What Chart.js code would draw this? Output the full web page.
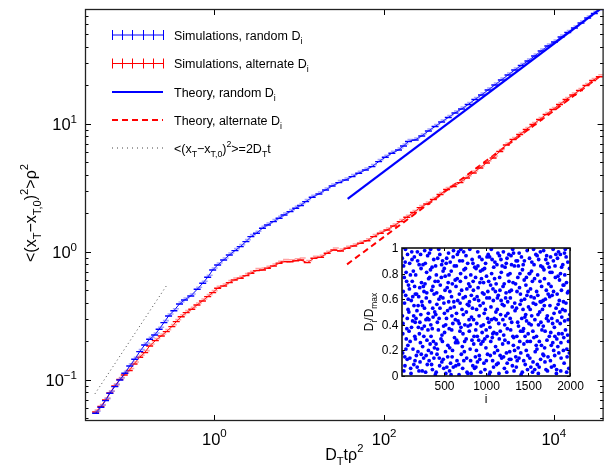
<!DOCTYPE html>
<html>
<head>
<meta charset="utf-8">
<script src="https://cdn.jsdelivr.net/npm/chart.js@4.4.1/dist/chart.umd.min.js"></script>
<style>
  html, body { margin: 0; padding: 0; background: #fff; }
  #wrap { position: relative; width: 609px; height: 468px; }
  #main { position: absolute; left: 0; top: 0; }
  #inset { position: absolute; left: 350px; top: 236px; }
</style>
</head>
<body>
<div id="wrap">
  <canvas id="main" width="609" height="468"></canvas>
  <canvas id="inset" width="240" height="180"></canvas>
</div>
<script>
'use strict';

// ---- data ----
var xRange = [0.0299, 38600];
var yRange = [0.0478, 79.1];
var xTickValues = [1, 100, 10000];
var xTickExps = ['0', '2', '4'];
var yTickValues = [0.1, 1, 10];
var yTickExps = ['\u22121', '0', '1'];

// simulations, random D_i
var blueT = [0.0399, 0.0460, 0.0522, 0.0587, 0.0671, 0.0769, 0.0880, 0.1007, 0.1152, 0.1319,
  0.1510, 0.1728, 0.1978, 0.2234, 0.2543, 0.2887, 0.3332, 0.3885, 0.4447, 0.527,
  0.627, 0.729, 0.834, 0.955, 1.093, 1.286, 1.50, 1.749, 2.018, 2.354,
  2.695, 3.134, 3.687, 4.219, 4.963, 5.787, 6.624, 7.791, 9.087, 10.34,
  11.90, 14.22, 17.05, 20.43, 24.42, 29.26, 35.07, 41.91, 50.22, 60.18,
  71.93, 86.19, 103.3, 123.5, 147.9, 169.3, 193.8, 232.3, 277.6, 332.6,
  398.7, 476.5, 571.0, 684.2, 817.7, 979.9, 1174, 1404, 1682, 2016,
  2409, 2887, 3459, 4134, 4955, 5937, 7097, 8505, 10190, 12180,
  14600, 17490, 20910, 25050, 30020, 35590];
var blueMsd = [0.0549, 0.0612, 0.0689, 0.0787, 0.0887, 0.1000, 0.1128, 0.1286, 0.1451, 0.1664,
  0.1877, 0.208, 0.2247, 0.2489, 0.2803, 0.3162, 0.3478, 0.3924, 0.4217, 0.4532,
  0.511, 0.569, 0.634, 0.723, 0.791, 0.866, 0.947, 1.024, 1.100, 1.204,
  1.317, 1.400, 1.532, 1.625, 1.725, 1.834, 1.946, 2.065, 2.195, 2.308,
  2.472, 2.675, 2.839, 3.051, 3.279, 3.479, 3.652, 3.876, 4.120, 4.371,
  4.639, 5.076, 5.494, 5.902, 6.265, 6.733, 7.299, 7.499, 8.059, 8.818,
  9.561, 10.37, 11.24, 12.19, 13.10, 14.20, 15.54, 16.85, 18.44, 20.17,
  22.07, 24.14, 26.42, 28.64, 31.06, 33.98, 37.18, 40.68, 43.71, 47.82,
  51.86, 56.23, 61.52, 67.33, 72.99, 78.45];

// simulations, alternate D_i
var redT = [0.0399, 0.0460, 0.0522, 0.0587, 0.0671, 0.0769, 0.0868, 0.0993, 0.1131, 0.1319,
  0.1510, 0.1728, 0.2015, 0.2370, 0.2712, 0.3156, 0.3555, 0.4068, 0.4656, 0.5417,
  0.6234, 0.7231, 0.834, 0.955, 1.093, 1.286, 1.50, 1.716, 2.018, 2.354,
  2.695, 3.134, 3.687, 4.219, 4.963, 5.787, 6.624, 7.791, 9.087, 10.40,
  12.43, 14.89, 17.85, 21.33, 25.56, 30.63, 36.61, 43.87, 52.58, 62.84,
  75.31, 90.24, 107.9, 129.3, 154.9, 185.1, 221.8, 265.9, 317.8, 380.8,
  456.3, 545.4, 653.5, 783.1, 935.9, 1122, 1344, 1607, 1925, 2307,
  2757, 3304, 3959, 4732, 5671, 6796, 8122, 9733, 11665, 13944,
  16711, 20027, 23925, 28676, 34364];
var redMsd = [0.0562, 0.0621, 0.0698, 0.0791, 0.0898, 0.1009, 0.1094, 0.1187, 0.1334, 0.1505,
  0.1634, 0.1844, 0.2028, 0.2207, 0.2384, 0.2609, 0.2854, 0.3122, 0.3356, 0.3568,
  0.3854, 0.4142, 0.4475, 0.4809, 0.5205, 0.5425, 0.5756, 0.6043, 0.6231, 0.6529,
  0.6817, 0.7144, 0.7233, 0.7459, 0.7773, 0.8161, 0.8399, 0.838, 0.8550, 0.866,
  0.825, 0.893, 0.909, 0.977, 1.037, 1.018, 1.069, 1.114, 1.170, 1.225,
  1.317, 1.400, 1.485, 1.596, 1.725, 1.867, 2.035, 2.219, 2.371, 2.571,
  2.813, 3.078, 3.249, 3.479, 3.786, 4.142, 4.532, 4.959, 5.425, 6.100,
  6.856, 7.567, 8.279, 9.059, 9.910, 10.84, 11.87, 12.98, 14.20, 15.54,
  16.85, 18.27, 19.99, 21.87, 23.41];

// theory lines and the short-time diffusive line
var blueTheoryT = [37.2, 35000];
var blueTheoryMsd = [2.6, 79];
var redTheoryT = [36.6, 34364];
var redTheoryMsd = [0.80, 23.4];
var diffusiveT = [0.0392, 0.2716];
var diffusiveMsd = [0.078, 0.543];

// inset: D_i / D_max against i
var insetXRange = [0, 2000];
var insetYRange = [0, 1];
var insetXTicks = [500, 1000, 1500, 2000];
var insetYTicks = [0, 0.2, 0.4, 0.6, 0.8, 1];
var insetPoints = [
  [3,.92],[12,.41],[27,.77],[35,.08],[44,.63],[51,.29],[66,.95],[72,.52],[8,.18],[19,.86],[58,.37],[77,.71],[30,.57],[62,.13],[41,.99],[15,.66],[70,.24],[49,.81],
  [84,.35],[91,.88],[103,.06],[110,.59],[122,.74],[131,.21],[139,.47],[147,.93],[155,.12],[88,.68],[97,.27],[116,.97],[126,.43],[135,.82],[143,.55],[152,.31],[107,.02],[158,.64],
  [163,.79],[171,.16],[178,.51],[186,.90],[195,.38],[202,.04],[211,.69],[219,.26],[227,.84],[236,.58],[167,.45],[183,.97],[199,.62],[207,.33],[215,.11],[224,.48],[232,.73],[190,.19],
  [243,.55],[250,.87],[258,.14],[266,.39],[274,.72],[281,.03],[289,.61],[297,.28],[305,.94],[313,.49],[246,.23],[262,.66],[270,.98],[285,.44],[293,.81],[301,.09],[309,.36],[317,.76],
  [323,.12],[331,.58],[339,.83],[346,.31],[354,.67],[362,.05],[370,.46],[378,.91],[386,.22],[394,.74],[327,.96],[343,.40],[350,.18],[358,.85],[366,.53],[374,.27],[382,.64],[397,.01],
  [402,.48],[409,.79],[417,.17],[425,.92],[433,.36],[440,.60],[448,.08],[456,.71],[464,.29],[472,.87],[405,.25],[413,.65],[421,.42],[437,.99],[444,.14],[452,.53],[468,.77],[476,.32],
  [483,.90],[491,.13],[499,.57],[507,.34],[514,.78],[522,.02],[530,.45],[538,.69],[546,.24],[554,.96],[487,.61],[495,.39],[503,.84],[518,.19],[526,.88],[534,.07],[542,.51],[550,.73],
  [562,.37],[570,.66],[578,.10],[586,.82],[594,.47],[601,.20],[609,.93],[617,.58],[625,.30],[633,.75],[566,.04],[574,.89],[590,.62],[597,.15],[605,.41],[613,.98],[621,.54],[637,.26],
  [643,.70],[651,.28],[659,.95],[667,.43],[675,.09],[683,.64],[690,.35],[698,.80],[706,.17],[714,.52],[647,.86],[655,.12],[663,.59],[679,.01],[687,.90],[694,.74],[702,.38],[718,.23],
  [722,.06],[730,.48],[738,.83],[746,.27],[754,.62],[762,.94],[770,.14],[778,.56],[786,.39],[794,.72],[726,.33],[734,.97],[742,.19],[758,.77],[766,.50],[774,.03],[782,.88],[798,.44],
  [803,.58],[811,.21],[819,.79],[827,.46],[835,.91],[843,.08],[850,.67],[858,.31],[866,.85],[874,.15],[807,.99],[815,.40],[823,.02],[839,.53],[847,.74],[854,.25],[862,.60],[878,.36],
  [882,.84],[890,.41],[898,.11],[906,.69],[914,.28],[922,.93],[930,.55],[938,.03],[946,.76],[954,.34],[886,.20],[894,.62],[902,.97],[918,.47],[926,.13],[934,.82],[942,.39],[958,.65],
  [963,.27],[971,.73],[979,.49],[987,.05],[995,.88],[1002,.36],[1010,.61],[1018,.17],[1026,.95],[1034,.42],[967,.57],[975,.10],[983,.84],[999,.22],[1006,.78],[1014,.31],[1022,.66],[1038,.01],
  [1043,.93],[1051,.16],[1059,.54],[1067,.80],[1075,.30],[1083,.68],[1090,.07],[1098,.45],[1106,.89],[1114,.23],[1047,.38],[1055,.71],[1063,.99],[1079,.12],[1087,.59],[1094,.34],[1102,.76],[1118,.50],
  [1122,.44],[1130,.87],[1138,.20],[1146,.63],[1154,.02],[1162,.77],[1170,.35],[1178,.91],[1186,.14],[1194,.56],[1126,.09],[1134,.52],[1142,.96],[1158,.29],[1166,.67],[1174,.48],[1182,.81],[1198,.25],
  [1203,.70],[1211,.32],[1219,.06],[1227,.85],[1235,.47],[1243,.18],[1250,.92],[1258,.58],[1266,.26],[1274,.74],[1207,.97],[1215,.55],[1223,.40],[1239,.65],[1247,.03],[1254,.37],[1262,.79],[1278,.13],
  [1282,.19],[1290,.61],[1298,.94],[1306,.42],[1314,.08],[1322,.73],[1330,.30],[1338,.86],[1346,.51],[1354,.15],[1286,.80],[1294,.36],[1302,.67],[1318,.99],[1326,.24],[1334,.04],[1342,.57],[1358,.90],
  [1363,.53],[1371,.12],[1379,.77],[1387,.39],[1395,.96],[1402,.27],[1410,.64],[1418,.01],[1426,.45],[1434,.83],[1367,.31],[1375,.90],[1383,.22],[1399,.69],[1406,.56],[1414,.18],[1422,.93],[1438,.35],
  [1443,.87],[1451,.25],[1459,.60],[1467,.09],[1475,.71],[1483,.43],[1490,.98],[1498,.16],[1506,.54],[1514,.80],[1447,.37],[1455,.75],[1463,.46],[1479,.20],[1487,.63],[1494,.05],[1502,.33],[1518,.92],
  [1522,.14],[1530,.68],[1538,.40],[1546,.89],[1554,.03],[1562,.57],[1570,.30],[1578,.76],[1586,.19],[1594,.95],[1526,.52],[1534,.07],[1542,.82],[1558,.35],[1566,.99],[1574,.61],[1582,.44],[1598,.24],
  [1603,.66],[1611,.09],[1619,.48],[1627,.91],[1635,.27],[1643,.74],[1650,.13],[1658,.58],[1666,.36],[1674,.85],[1607,.21],[1615,.79],[1623,.02],[1639,.50],[1647,.97],[1654,.42],[1662,.70],[1678,.17],
  [1682,.39],[1690,.83],[1698,.22],[1706,.60],[1714,.05],[1722,.94],[1730,.47],[1738,.15],[1746,.72],[1754,.31],[1686,.98],[1694,.55],[1702,.11],[1718,.67],[1726,.28],[1734,.88],[1742,.43],[1758,.62],
  [1763,.81],[1771,.34],[1779,.07],[1787,.63],[1795,.26],[1802,.90],[1810,.49],[1818,.16],[1826,.77],[1834,.53],[1767,.12],[1775,.70],[1783,.45],[1799,.99],[1806,.20],[1814,.38],[1822,.86],[1838,.02],
  [1843,.29],[1851,.92],[1859,.56],[1867,.18],[1875,.75],[1883,.41],[1890,.04],[1898,.67],[1906,.33],[1914,.87],[1847,.64],[1855,.23],[1863,.97],[1879,.50],[1887,.80],[1894,.14],[1902,.46],[1918,.71],
  [1922,.58],[1930,.10],[1938,.79],[1946,.36],[1954,.93],[1962,.21],[1970,.65],[1978,.44],[1986,.06],[1994,.84],[1926,.30],[1934,.96],[1942,.51],[1958,.73],[1966,.15],[1974,.89],[1982,.27],[1998,.48],
  [5,.47],[22,.04],[38,.89],[47,.21],[55,.74],[63,.45],[74,.60],[10,.33],[33,.15],
  [82,.50],[94,.14],[100,.79],[113,.38],[119,.91],[128,.62],[141,.09],[150,.70],[157,.42],
  [160,.29],[174,.64],[181,.07],[192,.55],[204,.87],[213,.42],[221,.95],[229,.17],[238,.37],
  [241,.04],[254,.70],[260,.31],[268,.53],[277,.88],[287,.16],[295,.65],[303,.45],[315,.20],
  [321,.44],[329,.77],[335,.25],[341,.99],[352,.09],[360,.37],[368,.70],[380,.14],[390,.50],
  [400,.86],[407,.03],[415,.56],[423,.21],[429,.74],[442,.45],[450,.95],[460,.62],[474,.11],
  [481,.27],[489,.82],[497,.06],[505,.49],[512,.67],[520,.40],[532,.92],[544,.15],[556,.58],
  [560,.79],[568,.22],[576,.53],[584,.01],[592,.36],[599,.72],[611,.07],[623,.86],[635,.44],
  [641,.08],[649,.49],[657,.76],[665,.26],[673,.97],[681,.41],[692,.57],[700,.99],[710,.67],
  [720,.90],[728,.61],[736,.12],[748,.40],[756,.84],[764,.29],[772,.68],[784,.02],[796,.55],
  [801,.35],[809,.70],[817,.12],[825,.63],[833,.28],[845,.88],[852,.44],[864,.06],[876,.77],
  [880,.07],[888,.52],[896,.31],[904,.86],[912,.59],[920,.16],[928,.73],[940,.25],[952,.91],
  [961,.83],[969,.40],[977,.64],[985,.29],[993,.52],[1004,.12],[1012,.93],[1020,.45],[1032,.74],
  [1041,.61],[1049,.03],[1057,.27],[1065,.44],[1073,.91],[1081,.33],[1092,.85],[1100,.18],[1112,.66],
  [1121,.72],[1128,.33],[1136,.61],[1144,.10],[1152,.41],[1160,.94],[1168,.16],[1180,.59],[1192,.86],
  [1201,.44],[1209,.15],[1217,.72],[1225,.28],[1233,.61],[1241,.88],[1252,.10],[1260,.49],[1272,.95],
  [1281,.66],[1288,.45],[1296,.13],[1304,.87],[1312,.54],[1320,.31],[1328,.96],[1340,.20],[1352,.72],
  [1361,.07],[1369,.66],[1377,.42],[1385,.86],[1393,.14],[1404,.80],[1412,.35],[1420,.59],[1432,.03],
  [1441,.52],[1449,.12],[1457,.90],[1465,.31],[1473,.48],[1481,.77],[1492,.27],[1500,.66],[1512,.41],
  [1521,.80],[1528,.27],[1536,.62],[1544,.47],[1552,.74],[1560,.11],[1572,.87],[1580,.05],[1592,.56],
  [1601,.31],[1609,.94],[1617,.63],[1625,.40],[1633,.07],[1645,.58],[1652,.86],[1660,.24],[1672,.52],
  [1681,.59],[1688,.16],[1696,.76],[1704,.35],[1712,.91],[1720,.45],[1732,.04],[1740,.64],[1752,.85],
  [1761,.55],[1769,.93],[1777,.24],[1785,.81],[1793,.41],[1804,.66],[1812,.08],[1820,.31],[1832,.95],
  [1841,.05],[1849,.43],[1857,.78],[1865,.33],[1873,.59],[1885,.95],[1892,.26],[1900,.85],[1912,.52],
  [1921,.20],[1928,.71],[1936,.43],[1944,.99],[1952,.57],[1960,.03],[1972,.32],[1980,.66],[1992,.18]
];

var legendRows = [
  [['Simulations, random D', ''], ['i', 'sub']],
  [['Simulations, alternate D', ''], ['i', 'sub']],
  [['Theory, random D', ''], ['i', 'sub']],
  [['Theory, alternate D', ''], ['i', 'sub']],
  [['<(x', ''], ['T', 'sub'], ['\u2212x', ''], ['T,0', 'sub'], [')', ''], ['2', 'sup'], ['>=2D', ''], ['T', 'sub'], ['t', '']]
];

// ---- drawing helpers ----
var FONT = '"Liberation Sans", Arial, Helvetica, sans-serif';
var BLUE = '#0000ff';
var RED = '#ff0000';

function pairs(xs, ys) {
  return xs.map(function (x, k) { return { x: x, y: ys[k] }; });
}

// text with sub/superscript pieces: parts = [[text, ''|'sub'|'sup'], ...]
function richText(ctx, parts, x, y, size, align) {
  var small = size * 0.7;
  var widths = parts.map(function (p) {
    ctx.font = (p[1] ? small : size) + 'px ' + FONT;
    return ctx.measureText(p[0]).width;
  });
  var total = widths.reduce(function (a, b) { return a + b; }, 0);
  var cx = align === 'center' ? x - total / 2 : (align === 'right' ? x - total : x);
  ctx.textAlign = 'left';
  ctx.textBaseline = 'alphabetic';
  parts.forEach(function (p, k) {
    var dy = p[1] === 'sub' ? size * 0.32 : (p[1] === 'sup' ? -size * 0.47 : 0);
    ctx.font = (p[1] ? small : size) + 'px ' + FONT;
    ctx.fillText(p[0], cx, y + dy);
    cx += widths[k];
  });
}

function seg(ctx, x1, y1, x2, y2) {
  ctx.beginPath();
  ctx.moveTo(x1, y1);
  ctx.lineTo(x2, y2);
  ctx.stroke();
}

// lighter second cap next to each error bar, like the original export
var capShadow = {
  id: 'capShadow',
  afterDatasetDraw: function (chart, args) {
    var ds = chart.data.datasets[args.index];
    if (!ds.shadow) return;
    var ctx = chart.ctx, a = chart.chartArea;
    ctx.save();
    ctx.beginPath();
    ctx.rect(a.left, a.top, a.right - a.left, a.bottom - a.top);
    ctx.clip();
    ctx.strokeStyle = ds.shadow;
    ctx.lineWidth = 1.6;
    args.meta.data.forEach(function (pt) {
      seg(ctx, pt.x - 1, pt.y - 2, pt.x + 5, pt.y - 2);
    });
    ctx.restore();
  }
};

var mainDecor = {
  id: 'mainDecor',
  afterDraw: function (chart) {
    var ctx = chart.ctx, a = chart.chartArea;
    var xs = chart.scales.x, ys = chart.scales.y;
    ctx.save();
    ctx.strokeStyle = '#000';
    ctx.fillStyle = '#000';
    ctx.lineWidth = 1;

    // y ticks, majors and minors, on both sides
    for (var e = -2; e <= 1; e++) {
      for (var m = 1; m < 10; m++) {
        var v = m * Math.pow(10, e);
        if (v < ys.min || v > ys.max) continue;
        var py = Math.round(ys.getPixelForValue(v)) + 0.5;
        var len = m === 1 ? 6 : 3.5;
        seg(ctx, a.left, py, a.left + len, py);
        seg(ctx, a.right, py, a.right - len, py);
      }
    }
    xTickValues.forEach(function (v) {
      var px = Math.round(xs.getPixelForValue(v)) + 0.5;
      seg(ctx, px, a.bottom, px, a.bottom - 6);
      seg(ctx, px, a.top, px, a.top + 6);
    });

    ctx.lineWidth = 1.3;
    ctx.strokeStyle = '#222';
    ctx.strokeRect(a.left + 0.5, a.top + 0.5, a.right - a.left - 1, a.bottom - a.top - 1);

    // tick labels
    ctx.fillStyle = '#000';
    yTickValues.forEach(function (v, k) {
      var py = ys.getPixelForValue(v);
      richText(ctx, [['10', ''], [yTickExps[k], 'sup']], a.left - 8, py + 6.5, 16.5, 'right');
    });
    xTickValues.forEach(function (v, k) {
      var px = xs.getPixelForValue(v);
      richText(ctx, [['10', ''], [xTickExps[k], 'sup']], px, a.bottom + 24, 16.5, 'center');
    });

    // axis titles
    richText(ctx, [['D', ''], ['T', 'sub'], ['t\u03c1', ''], ['2', 'sup']],
      (a.left + a.right) / 2, 460, 16, 'center');
    ctx.save();
    ctx.translate(30, (a.top + a.bottom) / 2 - 2);
    ctx.rotate(-Math.PI / 2);
    richText(ctx, [['<(x', ''], ['T', 'sub'], ['\u2212x', ''], ['T,0', 'sub'], [')', ''], ['2', 'sup'],
      ['>\u03c1', ''], ['2', 'sup']], 0, 6, 16, 'center');
    ctx.restore();

    // legend
    var lx0 = 112, lx1 = 163, tx = 174;
    var rowsY = [35, 63.5, 92, 120, 148];
    ctx.lineWidth = 1;
    [BLUE, RED].forEach(function (col, r) {
      var y = rowsY[r];
      ctx.strokeStyle = col;
      seg(ctx, lx0, y, lx1, y);
      for (var k = 0; k < 6; k++) {
        var tx0 = Math.round(lx0 + k * (lx1 - lx0) / 5) + 0.5;
        seg(ctx, tx0, y - 5, tx0, y + 5);
      }
    });
    ctx.lineWidth = 2;
    ctx.strokeStyle = BLUE;
    seg(ctx, lx0, rowsY[2], lx1, rowsY[2]);
    ctx.strokeStyle = RED;
    ctx.setLineDash([6, 4]);
    seg(ctx, lx0, rowsY[3], lx1, rowsY[3]);
    ctx.lineWidth = 1;
    ctx.strokeStyle = '#444';
    ctx.setLineDash([1, 4]);
    seg(ctx, lx0, rowsY[4], lx1, rowsY[4]);
    ctx.setLineDash([]);
    ctx.fillStyle = '#000';
    legendRows.forEach(function (parts, r) {
      richText(ctx, parts, tx, rowsY[r] + 4.5, 12.5, 'left');
    });
    ctx.restore();
  }
};

var insetDecor = {
  id: 'insetDecor',
  beforeDraw: function (chart) {
    var ctx = chart.ctx, a = chart.chartArea;
    ctx.save();
    ctx.fillStyle = '#fff';
    ctx.fillRect(a.left, a.top, a.right - a.left, a.bottom - a.top);
    ctx.restore();
  },
  afterDraw: function (chart) {
    var ctx = chart.ctx, a = chart.chartArea;
    var xs = chart.scales.x, ys = chart.scales.y;
    ctx.save();
    ctx.strokeStyle = '#000';
    ctx.fillStyle = '#000';
    ctx.lineWidth = 1;
    insetYTicks.forEach(function (v) {
      var py = Math.round(ys.getPixelForValue(v)) + 0.5;
      seg(ctx, a.left, py, a.left + 3, py);
      seg(ctx, a.right, py, a.right - 3, py);
      ctx.font = '12px ' + FONT;
      ctx.textAlign = 'right';
      ctx.textBaseline = 'middle';
      ctx.fillText(v === 0 ? '0' : (v === 1 ? '1' : v.toFixed(1)), a.left - 3.5, py);
    });
    insetXTicks.forEach(function (v) {
      var px = Math.round(xs.getPixelForValue(v)) + 0.5;
      seg(ctx, px, a.bottom, px, a.bottom - 3);
      seg(ctx, px, a.top, px, a.top + 3);
      ctx.font = '12px ' + FONT;
      ctx.textAlign = 'center';
      ctx.textBaseline = 'alphabetic';
      ctx.fillText(String(v), px, a.bottom + 14);
    });
    ctx.lineWidth = 1.6;
    ctx.strokeStyle = '#111';
    ctx.strokeRect(a.left, a.top, a.right - a.left, a.bottom - a.top);

    richText(ctx, [['i', '']], (a.left + a.right) / 2, a.bottom + 27, 12, 'center');
    ctx.save();
    ctx.translate(a.left - 29, (a.top + a.bottom) / 2);
    ctx.rotate(-Math.PI / 2);
    richText(ctx, [['D', ''], ['i', 'sub'], ['/D', ''], ['max', 'sub']], 0, 0, 12, 'center');
    ctx.restore();
    ctx.restore();
  }
};

// ---- main chart ----
new Chart(document.getElementById('main'), {
  type: 'scatter',
  data: {
    datasets: [
      {
        label: 'Theory, random Di', data: pairs(blueTheoryT, blueTheoryMsd), showLine: true,
        borderColor: BLUE, borderWidth: 2.2, pointRadius: 0, order: 0
      },
      {
        label: 'Theory, alternate Di', data: pairs(redTheoryT, redTheoryMsd), showLine: true,
        borderColor: RED, borderWidth: 2, borderDash: [6, 4], pointRadius: 0, order: 3
      },
      {
        label: '2DTt', data: pairs(diffusiveT, diffusiveMsd), showLine: true,
        borderColor: '#444', borderWidth: 1, borderDash: [1, 3], pointRadius: 0, order: 0
      },
      {
        label: 'Simulations, random Di', data: pairs(blueT, blueMsd), showLine: true,
        borderColor: BLUE, borderWidth: 1, pointStyle: 'line', pointRadius: 3.5,
        pointBorderWidth: 1.4, pointBorderColor: BLUE, shadow: 'rgba(90,90,255,0.55)', order: 1
      },
      {
        label: 'Simulations, alternate Di', data: pairs(redT, redMsd), showLine: true,
        borderColor: RED, borderWidth: 1, pointStyle: 'line', pointRadius: 3.5,
        pointBorderWidth: 1.4, pointBorderColor: RED, shadow: 'rgba(255,90,90,0.55)', order: 2
      }
    ]
  },
  options: {
    responsive: false,
    animation: false,
    events: [],
    layout: { padding: { left: 85, top: 9, right: 3, bottom: 47 } },
    scales: {
      x: { type: 'logarithmic', display: false, min: xRange[0], max: xRange[1] },
      y: { type: 'logarithmic', display: false, min: yRange[0], max: yRange[1] }
    },
    plugins: { legend: { display: false }, tooltip: { enabled: false } }
  },
  plugins: [capShadow, mainDecor]
});

// ---- inset ----
new Chart(document.getElementById('inset'), {
  type: 'scatter',
  data: {
    datasets: [{
      label: 'Di/Dmax',
      data: insetPoints.map(function (p) { return { x: p[0], y: p[1] }; }),
      pointRadius: 1.9,
      pointBorderWidth: 0,
      pointBackgroundColor: BLUE
    }]
  },
  options: {
    responsive: false,
    animation: false,
    events: [],
    layout: { padding: { left: 52, top: 12, right: 20, bottom: 40 } },
    scales: {
      x: { type: 'linear', display: false, min: insetXRange[0], max: insetXRange[1] },
      y: { type: 'linear', display: false, min: insetYRange[0], max: insetYRange[1] }
    },
    plugins: { legend: { display: false }, tooltip: { enabled: false } }
  },
  plugins: [insetDecor]
});
</script>
</body>
</html>
